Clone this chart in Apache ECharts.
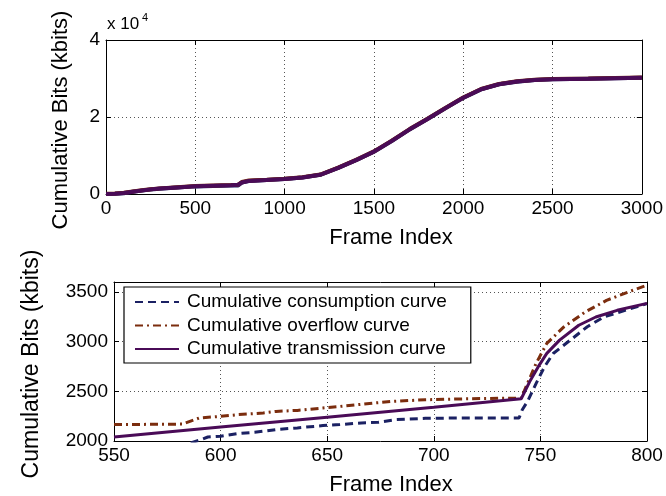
<!DOCTYPE html>
<html>
<head>
<meta charset="utf-8">
<script src="https://cdn.jsdelivr.net/npm/echarts@6/dist/echarts.min.js"></script>
<style>
  html, body { margin: 0; padding: 0; background: #fff; }
  #chart { width: 666px; height: 496px; }
</style>
</head>
<body>
<div id="chart"></div>
<script>
// top panel: whole sequence
const topFrames = [0, 50, 100, 150, 200, 250, 300, 400, 500, 600, 700, 740, 745, 760, 800, 900, 1000, 1100, 1200, 1300, 1400, 1500, 1600, 1700, 1800, 1900, 2000, 2100, 2200, 2300, 2400, 2500, 2700, 3000];
const topConsumption = [0, 40, 200, 560, 880, 1180, 1380, 1690, 1980, 2100, 2200, 2220, 2450, 2950, 3380, 3620, 3870, 4280, 4980, 6780, 8780, 10980, 13780, 16780, 19480, 22280, 24980, 27180, 28480, 29180, 29580, 29780, 29940, 30180];
const topOverflow = [60, 120, 300, 660, 960, 1260, 1460, 1760, 2060, 2220, 2360, 2430, 2680, 3100, 3500, 3720, 3960, 4360, 5060, 6860, 8860, 11060, 13860, 16860, 19560, 22360, 25060, 27260, 28560, 29260, 29660, 29860, 30010, 30260];
const topTransmission = [0, 60, 250, 600, 900, 1200, 1400, 1700, 2000, 2150, 2300, 2420, 2600, 3000, 3400, 3650, 3900, 4300, 5000, 6800, 8800, 11000, 13800, 16800, 19500, 22300, 25000, 27200, 28500, 29200, 29600, 29800, 29950, 30200];

// bottom panel: zoom on frames 550-800
const consumptionFrames = [586, 590, 594, 600, 608, 616, 626, 636, 648, 656, 666, 674, 682, 696, 716, 740, 741.5, 744, 748, 752, 756, 764, 772, 780, 792, 800];
const consumptionBits = [1980, 2008, 2040, 2048, 2075, 2088, 2115, 2132, 2155, 2165, 2182, 2188, 2215, 2228, 2232, 2232, 2315, 2400, 2580, 2750, 2880, 3015, 3150, 3250, 3330, 3382];
const overflowFrames = [550, 582, 590, 600, 608, 620, 626, 636, 648, 656, 672, 680, 696, 716, 741, 744, 748, 753, 761, 771, 781, 791, 800];
const overflowBits = [2165, 2170, 2232, 2248, 2265, 2282, 2298, 2308, 2332, 2348, 2382, 2398, 2415, 2425, 2432, 2582, 2782, 2982, 3148, 3298, 3415, 3498, 3568];
const transmissionFrames = [550, 600, 650, 700, 741, 745, 749, 753, 759, 768, 776, 786, 800];
const transmissionBits = [2040, 2140, 2240, 2340, 2425, 2598, 2748, 2882, 3015, 3165, 3248, 3315, 3385];

const seriesNames = ['Cumulative consumption curve', 'Cumulative overflow curve', 'Cumulative transmission curve'];

const font = 'Liberation Sans, Arial, Helvetica, sans-serif';
const blue = '#1b2163', brown = '#7b2d0e', purple = '#4a0b57';

function pairs(xs, ys) {
  return xs.map((x, i) => [x, ys[i]]);
}

function frameAxis(grid, min, max, interval, pos) {
  const main = pos === 'bottom';
  return {
    type: 'value', gridIndex: grid, position: pos, min: min, max: max, interval: interval,
    axisLine: { show: true, onZero: false, lineStyle: { color: '#000', width: 1 } },
    axisTick: { show: true, inside: true, length: 5, lineStyle: { color: '#000' } },
    axisLabel: { show: main, color: '#000', fontSize: 19, fontFamily: font, margin: 5, formatter: v => String(v) },
    splitLine: { show: main, lineStyle: { color: '#555', type: [1, 3], width: 1 } }
  };
}

function bitsAxis(grid, min, max, interval, pos, fmt) {
  const main = pos === 'left';
  return {
    type: 'value', gridIndex: grid, position: pos, min: min, max: max, interval: interval,
    axisLine: { show: true, onZero: false, lineStyle: { color: '#000', width: 1 } },
    axisTick: { show: true, inside: true, length: 5, lineStyle: { color: '#000' } },
    axisLabel: { show: main, color: '#000', fontSize: 19, fontFamily: font, margin: 6, formatter: fmt || (v => String(v)), showMaxLabel: max % interval === 0 },
    splitLine: { show: main, lineStyle: { color: '#555', type: [1, 3], width: 1 } }
  };
}

function title(txt, x, y, size, rotate) {
  return {
    type: 'text', x: x, y: y, rotation: rotate ? Math.PI / 2 : 0,
    style: { text: txt, fontSize: size, fontFamily: font, fill: '#000', align: 'center', verticalAlign: 'middle' }
  };
}

const chart = echarts.init(document.getElementById('chart'), null, { renderer: 'canvas' });

chart.setOption({
  animation: false,
  backgroundColor: '#fff',
  grid: [
    { left: 106, top: 40, width: 538, height: 154 },
    { left: 114, top: 282, width: 533, height: 159 }
  ],
  xAxis: [
    frameAxis(0, 0, 3000, 500, 'bottom'),
    frameAxis(0, 0, 3000, 500, 'top'),
    frameAxis(1, 550, 800, 50, 'bottom'),
    frameAxis(1, 550, 800, 50, 'top')
  ],
  yAxis: [
    bitsAxis(0, 0, 40000, 20000, 'left', v => String(v / 10000)),
    bitsAxis(0, 0, 40000, 20000, 'right'),
    bitsAxis(1, 2000, 3600, 500, 'left'),
    bitsAxis(1, 2000, 3600, 500, 'right')
  ],
  legend: {
    data: seriesNames,
    orient: 'vertical',
    left: 124, top: 287,
    padding: [5, 24, 4, 10],
    itemGap: 3.5,
    itemWidth: 44, itemHeight: 14,
    itemStyle: { opacity: 0 },
    backgroundColor: '#fff',
    borderColor: '#000', borderWidth: 1.2, borderRadius: 0,
    selectedMode: false,
    textStyle: { fontSize: 19, fontFamily: font, color: '#000', lineHeight: 20, padding: [0, 0, 0, 3] }
  },
  graphic: [
    title('Cumulative Bits (kbits)', 61, 120, 22, true),
    title('Cumulative Bits (kbits)', 32, 364, 23, true),
    title('Frame Index', 391, 238, 22, false),
    title('Frame Index', 391, 485, 22, false),
    { type: 'text', x: 107, y: 33, style: { text: 'x 10', fontSize: 17, fontFamily: font, fill: '#000', verticalAlign: 'bottom' } },
    { type: 'text', x: 142, y: 23, style: { text: '4', fontSize: 11, fontFamily: font, fill: '#000', verticalAlign: 'bottom' } }
  ],
  series: [
    { name: 'top consumption', type: 'line', xAxisIndex: 0, yAxisIndex: 0, data: pairs(topFrames, topConsumption), showSymbol: false, symbol: 'none', lineStyle: { color: blue, width: 4 } },
    { name: 'top overflow', type: 'line', xAxisIndex: 0, yAxisIndex: 0, data: pairs(topFrames, topOverflow), showSymbol: false, symbol: 'none', lineStyle: { color: brown, width: 4 } },
    { name: 'top transmission', type: 'line', xAxisIndex: 0, yAxisIndex: 0, data: pairs(topFrames, topTransmission), showSymbol: false, symbol: 'none', lineStyle: { color: purple, width: 4 } },
    { name: seriesNames[0], type: 'line', xAxisIndex: 2, yAxisIndex: 2, data: pairs(consumptionFrames, consumptionBits), symbol: 'none', itemStyle: { color: blue }, lineStyle: { color: blue, width: 3, type: [8, 5] } },
    { name: seriesNames[1], type: 'line', xAxisIndex: 2, yAxisIndex: 2, data: pairs(overflowFrames, overflowBits), symbol: 'none', itemStyle: { color: brown }, lineStyle: { color: brown, width: 3, type: [8, 4, 2, 4] } },
    { name: seriesNames[2], type: 'line', xAxisIndex: 2, yAxisIndex: 2, data: pairs(transmissionFrames, transmissionBits), symbol: 'none', itemStyle: { color: purple }, lineStyle: { color: purple, width: 3 } }
  ]
});
</script>
</body>
</html>
